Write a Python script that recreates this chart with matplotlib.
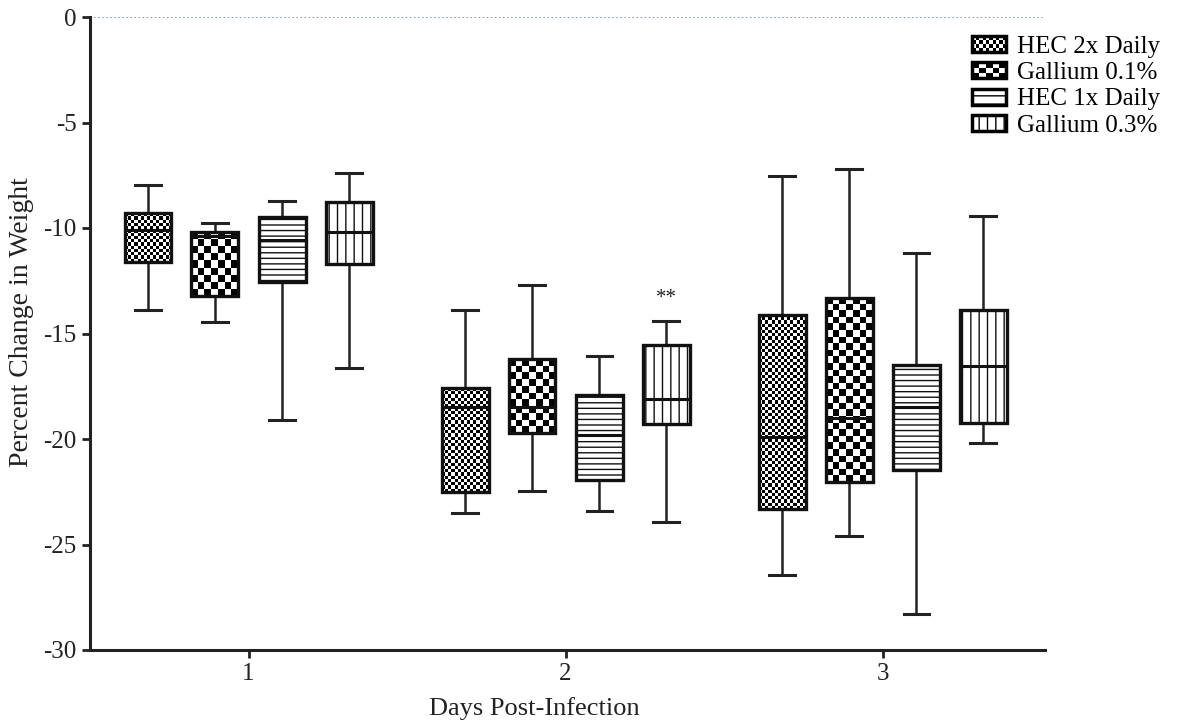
import matplotlib.pyplot as plt
import numpy as np
from matplotlib.patches import Rectangle
from matplotlib.legend_handler import HandlerBase

plt.rcParams['font.family'] = ['Liberation Serif', 'DejaVu Serif']
plt.rcParams['axes.unicode_minus'] = False
plt.rcParams['hatch.linewidth'] = 1.0

days = [1, 2, 3]
groups = ['HEC 2x Daily', 'Gallium 0.1%', 'HEC 1x Daily', 'Gallium 0.3%']

# one row per day: [whisker low, q1, median, q3, whisker high]
hec_2x = [[-13.9, -11.6, -10.1, -9.3, -7.95],
          [-23.5, -22.5, -18.5, -17.6, -13.9],
          [-26.45, -23.3, -19.9, -14.1, -7.55]]
gallium_01 = [[-14.45, -13.2, -10.4, -10.2, -9.75],
              [-22.45, -19.7, -18.5, -16.2, -12.7],
              [-24.6, -22.05, -19.0, -13.3, -7.2]]
hec_1x = [[-19.1, -12.55, -10.55, -9.5, -8.7],
          [-23.4, -21.95, -19.8, -17.9, -16.05],
          [-28.3, -21.45, -18.5, -16.5, -11.2]]
gallium_03 = [[-16.65, -11.7, -10.2, -8.75, -7.4],
              [-23.95, -19.3, -18.1, -15.55, -14.4],
              [-20.2, -19.25, -16.55, -13.9, -9.45]]

all_data = [hec_2x, gallium_01, hec_1x, gallium_03]
offsets = [-0.317, -0.106, 0.106, 0.317]
fills = ['fine', 'coarse', '---', '||']   # checker size or hatch
legend_hatch = {'---': '--', '||': '||'}
checker_px = {'fine': 3.2, 'coarse': 6.7}

sig_day = 2
sig_group = 3
sig_text = '**'


class CheckerHandler(HandlerBase):
    def __init__(self, ncols, nrows):
        super().__init__()
        self.ncols = ncols
        self.nrows = nrows

    def create_artists(self, legend, orig_handle, xdescent, ydescent,
                       width, height, fontsize, trans):
        arts = []
        cw = width / self.ncols
        ch = height / self.nrows
        for i in range(self.nrows):
            for j in range(self.ncols):
                if (i + j) % 2 == 0:
                    arts.append(Rectangle((-xdescent + j * cw, -ydescent + i * ch), cw, ch,
                                          facecolor='black', edgecolor='none', transform=trans))
        arts.append(Rectangle((-xdescent, -ydescent), width, height, facecolor='none',
                              edgecolor='black', lw=2.5, transform=trans))
        return arts


fig = plt.figure(figsize=(11.79, 7.25), dpi=100)
ax = fig.add_axes([90 / 1179, 75 / 725, 955 / 1179, 633 / 725])
xmin, xmax = 0.5, 3.512
ax.set_xlim(xmin, xmax)
ax.set_ylim(-30, 0)

px_x = 955 / (xmax - xmin)
px_y = 633 / 30
box_w = 0.148

for g, data in enumerate(all_data):
    stats = []
    for row in data:
        stats.append({'whislo': row[0], 'q1': row[1], 'med': row[2], 'q3': row[3], 'whishi': row[4]})
    pos = [d + offsets[g] for d in days]
    fill = fills[g]
    checker = fill in checker_px
    bp = ax.bxp(stats, positions=pos, widths=box_w, patch_artist=True, showfliers=False,
                capwidths=0.08, manage_ticks=False,
                boxprops=dict(facecolor='none' if checker else 'white', edgecolor='#111',
                              linewidth=2.4, hatch=None if checker else fill, zorder=3),
                whiskerprops=dict(color='#222', linewidth=1.8),
                capprops=dict(color='#222', linewidth=2.2),
                medianprops=dict(color='#111', linewidth=2.2, zorder=4))
    if checker:
        cell = checker_px[fill]
        for p, row, patch in zip(pos, data, bp['boxes']):
            x0, x1 = p - box_w / 2, p + box_w / 2
            ncols = max(1, int(round((x1 - x0) * px_x / cell)))
            nrows = max(1, int(round((row[3] - row[1]) * px_y / cell)))
            board = np.add.outer(np.arange(nrows), np.arange(ncols)) % 2
            im = ax.imshow(board, cmap='gray', extent=(x0, x1, row[1], row[3]),
                           aspect='auto', interpolation='nearest', zorder=2)
            im.set_clip_path(patch)

ax.set_xlim(xmin, xmax)
ax.set_ylim(-30, 0)

ax.text(days[sig_day - 1] + offsets[sig_group], all_data[sig_group][sig_day - 1][4] + 0.6,
        sig_text, ha='center', va='bottom', fontsize=15, color='#222')

ax.axhline(0, color='#5a7bb0', linestyle=':', linewidth=1.1, zorder=1)

for s in ['top', 'right']:
    ax.spines[s].set_visible(False)
for s in ['left', 'bottom']:
    ax.spines[s].set_linewidth(2.2)
    ax.spines[s].set_color('#222')

ax.set_xticks(days)
ax.set_xticklabels([str(d) for d in days])
ax.set_yticks(np.arange(-30, 1, 5))
ax.tick_params(length=6, width=2, color='#222', labelsize=18, labelcolor='#222')
ax.set_ylabel('Percent Change in Weight', fontsize=20, color='#222')
ax.set_xlabel('Days Post-Infection', fontsize=19, color='#222')
ax.yaxis.set_label_coords(-56 / 955, 0.518)
ax.xaxis.set_label_coords(0.465, -47 / 633)

handles = []
handler_map = {}
for g, name in enumerate(groups):
    fill = fills[g]
    if fill in checker_px:
        h = Rectangle((0, 0), 1, 1, facecolor='white', edgecolor='black', label=name)
        handler_map[h] = CheckerHandler(10 if fill == 'fine' else 5, 4 if fill == 'fine' else 3)
    else:
        h = Rectangle((0, 0), 1, 1, facecolor='white', edgecolor='black', lw=2.5,
                      hatch=legend_hatch[fill], label=name)
    handles.append(h)

ax.legend(handles=handles, handler_map=handler_map, loc='upper left',
          bbox_to_anchor=(960 / 1179, 1 - 23 / 725), bbox_transform=fig.transFigure,
          frameon=False, fontsize=18, handlelength=1.35, handleheight=0.6,
          handletextpad=0.45, labelspacing=0.18, borderpad=0)

fig.savefig('out.png', dpi=100)
